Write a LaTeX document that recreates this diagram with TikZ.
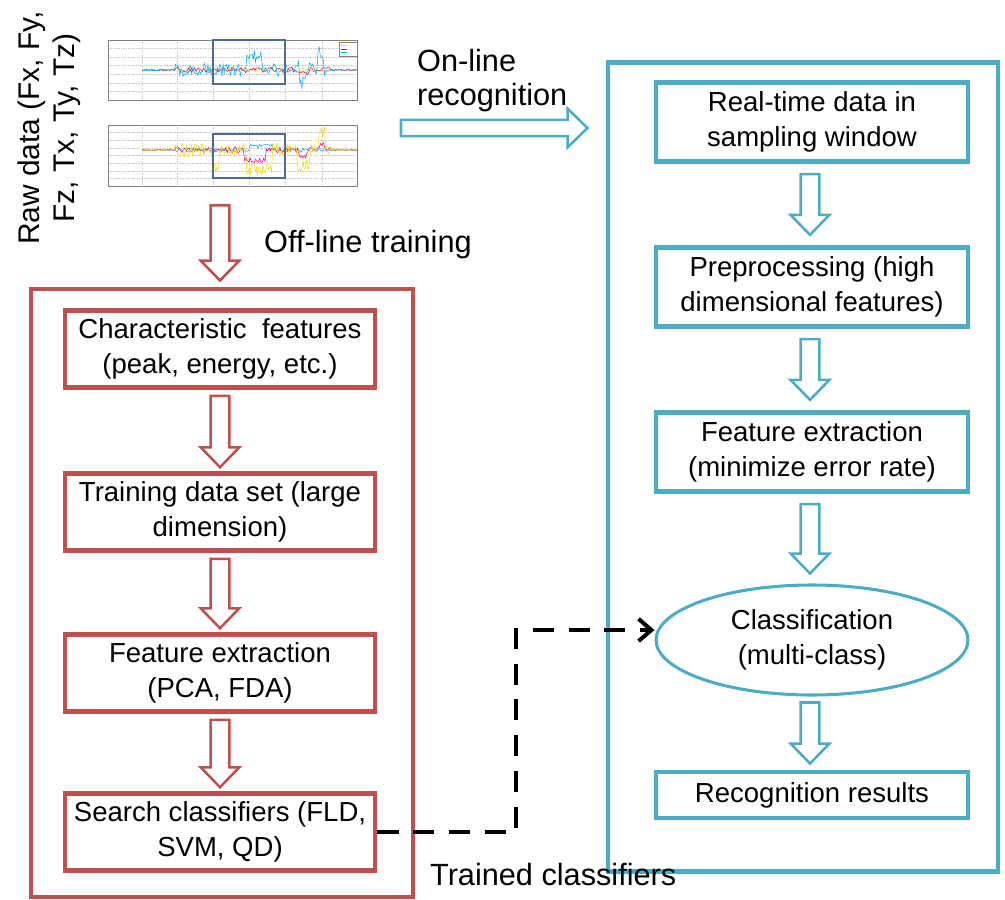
\documentclass[tikz,border=0pt]{standalone}
\usepackage{fontspec}
\setmainfont{Liberation Sans}
\usetikzlibrary{calc,arrows.meta,shapes.geometric}

\definecolor{trainred}{HTML}{C0504D}
\definecolor{onlineblue}{HTML}{4BACC6}
\definecolor{gridgray}{HTML}{C8C8C8}
\definecolor{winblue}{HTML}{4F6B93}
\definecolor{sigyellow}{HTML}{F2E600}

% hollow block arrows, pointing down or right
\newcommand\blockdown[3]{%
  \draw[#1] let \p1=(#2), \p2=(#3) in
    (\x1-8pt,\y1) -- (\x1+8pt,\y1) -- (\x1+8pt,\y2+17pt) -- (\x1+16.5pt,\y2+17pt)
    -- (\x1,\y2) -- (\x1-16.5pt,\y2+17pt) -- (\x1-8pt,\y2+17pt) -- cycle;}
\newcommand\blockright[3]{%
  \draw[#1] let \p1=(#2), \p2=(#3) in
    (\x1,\y1-7pt) -- (\x2-17pt,\y1-7pt) -- (\x2-17pt,\y1-16.5pt) -- (\x2,\y1)
    -- (\x2-17pt,\y1+16.5pt) -- (\x2-17pt,\y1+7pt) -- (\x1,\y1+7pt) -- cycle;}

\begin{document}
\begin{tikzpicture}[
  x=0.03cm,
  y=-0.03cm,
  font=\fontsize{23.5}{30}\selectfont,
  labeltext/.style={font=\fontsize{26.2}{29}\selectfont},
  redbox/.style={draw=trainred,line width=4.2pt,align=center,inner sep=0pt,
    minimum width=9.3cm,minimum height=2.3cm},
  bluebox/.style={draw=onlineblue,line width=4.2pt,align=center,inner sep=0pt,
    minimum width=9.36cm,minimum height=2.38cm},
  redarrow/.style={draw=trainred,line width=2.2pt},
  bluearrow/.style={draw=onlineblue,line width=2.2pt},
  dashline/.style={line width=3.4pt,dash pattern=on 18pt off 12.5pt,
    -{Straight Barb[length=11pt,width=19pt,line width=3.4pt]}},
  signal/.style={line width=0.45pt}
]
\useasboundingbox (0,0) rectangle (1005,900);

% ---- raw data plots ----
\node[inner sep=0pt,minimum width=7.8cm,minimum height=4.8cm] (raw) at (233,114) {};
\pgfmathsetseed{11}
\foreach \top/\bot/\n in {40/100/6,125/186/7}{
  \foreach \gx in {142,177,213,249,285,322}
    \draw[gridgray,densely dotted,line width=0.4pt] (\gx,\top) -- (\gx,\bot);
  \foreach \k in {1,...,\n}
    \draw[gridgray,densely dotted,line width=0.4pt]
      (108,{\top+(\bot-\top)*\k/(\n+1)}) -- (357,{\top+(\bot-\top)*\k/(\n+1)});
  \draw[gray,line width=0.4pt] (108,\top) rectangle (357,\bot);
}
% force channels
\draw[signal,sigyellow] plot[domain=142:357,samples=120]
  (\x,{70+(0.6+1.5*(\x>175)*(\x<330))*rand});
\draw[signal,magenta] plot[domain=142:357,samples=140]
  (\x,{70+(0.6+2.2*(\x>175)*(\x<330))*rand+2*(\x>298)*(\x<310)});
\draw[signal,cyan] plot[domain=142:357,samples=200]
  (\x,{70+(1+5.5*(\x>175)*(\x<290)+8*(\x>295)*(\x<325))*rand
   +14*(\x>299)*(\x<306)-12*(\x>246)*(\x<262)-16*(\x>318)*(\x<324)});
% torque channels
\draw[signal,cyan] plot[domain=142:357,samples=140]
  (\x,{150+(0.6+1.5*(\x>175)*(\x<330))*rand-4*(\x>250)*(\x<272)});
\draw[signal,magenta] plot[domain=142:357,samples=160]
  (\x,{150+(0.6+2.5*(\x>175)*(\x<330))*rand+10*(\x>244)*(\x<266)+5*(\x>298)*(\x<308)
   -5*(\x>320)*(\x<325)});
\draw[signal,sigyellow!90!orange] plot[domain=142:357,samples=200]
  (\x,{150+(0.8+6*(\x>175)*(\x<330))*rand+15*(\x>212)*(\x<219)+18*(\x>246)*(\x<272)
   +16*(\x>297)*(\x<310)-18*(\x>319)*(\x<325)});
% sampling windows and legend
\draw[winblue,line width=1.4pt] (213,40) rectangle (285,84);
\draw[winblue,line width=1.4pt] (213,134) rectangle (285,178);
\draw[gray,fill=white,line width=0.4pt] (339,42) rectangle (357,56);
\foreach \ly/\lc in {45.5/sigyellow,49/magenta,52.5/cyan}
  \draw[\lc,line width=0.6pt] (341,\ly) -- (347,\ly);

\node[font=\fontsize{25.5}{30}\selectfont,rotate=90,align=center] (rawlabel) at (49,128)
  {Raw data (Fx, Fy,\\Fz, Tx, Ty, Tz)};

% ---- off-line training ----
\node[draw=trainred,line width=4.2pt,minimum width=11.46cm,minimum height=18.24cm,
  inner sep=0pt] (train) at (222,593) {};
\node[redbox] (feat) at (220,349) {Characteristic\ \ features\\(peak, energy, etc.)};
\node[redbox] (tset) at (220,512) {Training data set (large\\dimension)};
\node[redbox] (fext) at (220,673) {Feature extraction\\(PCA, FDA)};
\node[redbox] (srch) at (220,832) {Search classifiers (FLD,\\SVM, QD)};
\node[labeltext,anchor=west] (offlabel) at (260,245) {Off-line training};

\blockdown{redarrow}{$(train.north |- raw.south)+(-2,11)$}{$(train.north)+(-2,-6)$}
\blockdown{redarrow}{$(feat.south)+(0,6)$}{$(tset.north)+(0,-4)$}
\blockdown{redarrow}{$(tset.south)+(0,6)$}{$(fext.north)+(0,-4)$}
\blockdown{redarrow}{$(fext.south)+(0,6)$}{$(srch.north)+(0,-4)$}

% ---- on-line recognition ----
\node[draw=onlineblue,line width=4.2pt,minimum width=11.7cm,minimum height=24.27cm,
  inner sep=0pt] (online) at (803,467) {};
\node[bluebox] (rtd) at (812,122) {Real-time data in\\sampling window};
\node[bluebox] (prep) at (812,287) {Preprocessing (high\\dimensional features)};
\node[bluebox] (oext) at (812,452) {Feature extraction\\(minimize error rate)};
\node[ellipse,draw=onlineblue,line width=2.6pt,align=center,inner sep=0pt,
  minimum width=9.36cm,minimum height=3.3cm] (cls) at (812,640) {Classification\\(multi-class)};
\node[bluebox,minimum height=1.38cm] (res) at (812,795) {Recognition results};
\node[labeltext,anchor=west,align=left] (onlabel) at (413,81) {On-line\\recognition};

\coordinate (onstart) at (401,128);
\blockright{bluearrow}{onstart}{$(online.west |- onstart)+(-18,0)$}
\blockdown{bluearrow}{$(rtd.south)+(-2,10)$}{$(prep.north)+(-2,-10)$}
\blockdown{bluearrow}{$(prep.south)+(-2,10)$}{$(oext.north)+(-2,-10)$}
\blockdown{bluearrow}{$(oext.south)+(-2,10)$}{$(cls.north)+(-2,-10)$}
\blockdown{bluearrow}{$(cls.south)+(-2,6)$}{$(res.north)+(-2,-6)$}

% ---- trained classifiers link ----
\coordinate (bend) at (516,630);
\draw[dashline] (srch.east) -- (srch.east -| bend) -- (bend) -- (cls.west |- bend);
\node[labeltext,anchor=west] (trlabel) at (426,875) {Trained classifiers};
\end{tikzpicture}
\end{document}
